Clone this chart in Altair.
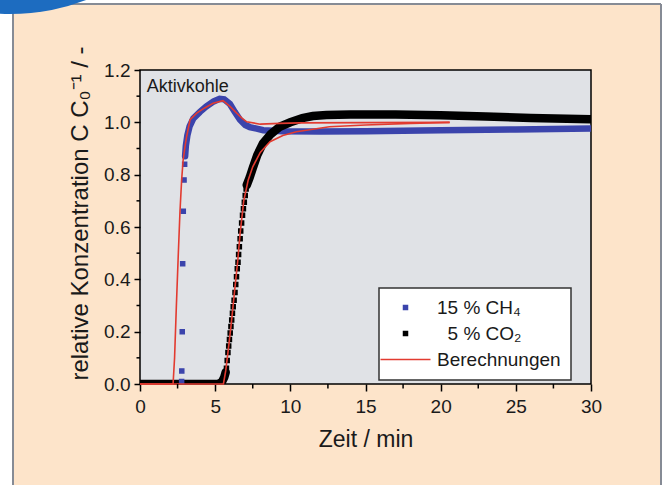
import altair as alt
import pandas as pd

FONT = "Liberation Sans"
# legend entries; the figure space lines the CO2 digit up under the CH4 one
SERIES = ["15 % CH₄", "\u200b\u20075 % CO₂", "Berechnungen"]
COLORS = ["#3b44ac", "#000000", "#e23b30"]

# axis ticks
x_major = [0, 5, 10, 15, 20, 25, 30]
x_minor = [2.5, 7.5, 12.5, 17.5, 22.5, 27.5]
y_major = [0.0, 0.2, 0.4, 0.6, 0.8, 1.0, 1.2]
y_minor = [0.1, 0.3, 0.5, 0.7, 0.9, 1.1]

# measured CH4: single squares on the steep front
ch4_front_t = [2.77, 2.78, 2.81, 2.84, 2.88, 2.93, 2.97]
ch4_front_c = [0.01, 0.05, 0.20, 0.46, 0.66, 0.78, 0.84]
# measured CH4: densely sampled part (overlapping squares)
ch4_band_t = [3.0, 3.05, 3.15, 3.3, 3.55, 3.99, 4.4, 4.9, 5.3, 5.6, 5.98, 6.3, 6.65,
              7.0, 7.3, 8.2, 9.5, 12, 15, 20, 25, 30]
ch4_band_c = [0.87, 0.91, 0.95, 0.985, 1.015, 1.04, 1.06, 1.08, 1.09, 1.088, 1.07, 1.04, 1.01,
              0.99, 0.982, 0.97, 0.966, 0.965, 0.966, 0.97, 0.973, 0.976]

# measured CO2: dense foot before breakthrough
co2_foot_t = [0, 5.2, 5.45, 5.6, 5.7]
co2_foot_c = [0.0, 0.0, 0.008, 0.025, 0.045]
# measured CO2: single squares on the front
co2_front_t = [5.75, 5.8, 5.85, 5.9, 5.95, 6.0, 6.05, 6.1, 6.15, 6.2, 6.26, 6.32, 6.37,
               6.42, 6.47, 6.52, 6.56, 6.61, 6.66, 6.7, 6.76, 6.82, 6.88, 6.94, 7.0, 7.06]
co2_front_c = [0.06, 0.09, 0.12, 0.145, 0.17, 0.195, 0.22, 0.245, 0.27, 0.295, 0.32, 0.35, 0.38,
               0.41, 0.44, 0.465, 0.495, 0.525, 0.555, 0.585, 0.615, 0.645, 0.67, 0.695, 0.72, 0.745]
# measured CO2: dense plateau
co2_band_t = [7.1, 7.3, 7.5, 7.8, 8.18, 8.7, 9.3, 10, 10.8, 11.5, 12.4, 14, 17, 20, 23, 26, 30]
co2_band_c = [0.76, 0.79, 0.825, 0.875, 0.92, 0.955, 0.983, 1.0, 1.016, 1.024, 1.028, 1.03,
              1.03, 1.027, 1.022, 1.017, 1.012]

# model calculations
calc_ch4_t = [0, 2.2, 2.3, 2.42, 2.55, 2.66, 2.77, 2.87, 3.0, 3.1, 3.33, 3.77, 4.3, 4.86,
              5.52, 6.0, 6.43, 6.8, 7.1, 8.0, 9.3, 10.6, 15, 20.6]
calc_ch4_c = [0.0, 0.0, 0.1, 0.3, 0.5, 0.66, 0.78, 0.856, 0.91, 0.945, 1.01, 1.035, 1.055, 1.073,
              1.083, 1.06, 1.035, 1.015, 1.002, 0.993, 0.996, 0.998, 0.999, 1.0]
calc_co2_t = [0, 5.55, 5.7, 5.85, 6.05, 6.3, 6.5, 6.65, 6.9, 7.2, 7.5, 8.0, 8.65, 9.5,
              10.4, 12.6, 15, 18, 20.6]
calc_co2_c = [0.0, 0.0, 0.05, 0.12, 0.22, 0.36, 0.47, 0.57, 0.7, 0.78, 0.83, 0.885, 0.926, 0.95,
              0.964, 0.983, 0.99, 0.996, 1.0]


def frame(t, c, series, seg):
    return pd.DataFrame({"t": t, "c": c, "series": series, "seg": seg})


points = pd.concat([frame(ch4_front_t, ch4_front_c, SERIES[0], "a"),
                    frame(co2_front_t, co2_front_c, SERIES[1], "b")])
band_ch4 = frame(ch4_band_t, ch4_band_c, SERIES[0], "a")
band_co2 = pd.concat([frame(co2_foot_t, co2_foot_c, SERIES[1], "foot"),
                      frame(co2_band_t, co2_band_c, SERIES[1], "plateau")])
calc = pd.concat([frame(calc_ch4_t, calc_ch4_c, SERIES[2], "ch4"),
                  frame(calc_co2_t, calc_co2_c, SERIES[2], "co2")])

x_scale = alt.Scale(domain=[0, 30], nice=False, zero=False)
y_scale = alt.Scale(domain=[0, 1.2], nice=False)

x_axis = alt.Axis(values=x_major, format="d", title="Zeit / min", domain=False, grid=False,
                  labelFlush=False, tickSize=7, tickWidth=1.5, tickColor="black", labelPadding=6,
                  labelFontSize=19, labelFont=FONT, labelColor="#1a1a1a",
                  titleFontSize=23, titleFont=FONT, titleFontWeight="normal", titleColor="#1a1a1a",
                  titleY=62, titleBaseline="alphabetic")
y_axis = alt.Axis(values=y_major, format=".1f", title="relative Konzentration  C C₀⁻¹ / -",
                  domain=False, grid=False, labelFlush=False, tickSize=6, tickWidth=1.5,
                  tickColor="black", labelPadding=4, labelFontSize=19, labelFont=FONT,
                  labelColor="#1a1a1a",
                  titleFontSize=24, titleFont=FONT, titleFontWeight="normal", titleColor="#1a1a1a",
                  titleAngle=270, titleAlign="center", titleBaseline="alphabetic",
                  titleX=-53, titleY=143)

X = alt.X("t:Q", scale=x_scale, axis=x_axis)
Y = alt.Y("c:Q", scale=y_scale, axis=y_axis)

color_scale = alt.Scale(domain=SERIES, range=COLORS)
shape_scale = alt.Scale(domain=SERIES, range=["square", "square", "M-12.5,0H12.5"])
legend = alt.Legend(title=None, orient="none", legendX=239, legendY=218,
                    fillColor="white", strokeColor="#333333", padding=10,
                    symbolOffset=7, labelOffset=22, rowPadding=6, symbolSize=16,
                    symbolStrokeWidth=1.5, labelFontSize=19, labelFont=FONT,
                    labelColor="#1a1a1a")

one = pd.DataFrame({"k": [0]})

# page decoration: white margins, grey frame and the blue corner tab
white_strips = alt.Chart(one).mark_rect(color="white").encode(
    x=alt.value(-140), x2=alt.value(-127), y=alt.value(-70), y2=alt.value(415))
white_right = alt.Chart(one).mark_rect(color="white").encode(
    x=alt.value(521), x2=alt.value(530), y=alt.value(-70), y2=alt.value(415))
white_top = alt.Chart(one).mark_rect(color="white").encode(
    x=alt.value(-140), x2=alt.value(530), y=alt.value(-70), y2=alt.value(-66))
frame_left = alt.Chart(one).mark_rule(color="#868b95", strokeWidth=2).encode(
    x=alt.value(-127), y=alt.value(-66), y2=alt.value(415))
frame_right = alt.Chart(one).mark_rule(color="#868b95", strokeWidth=2).encode(
    x=alt.value(521), y=alt.value(-66), y2=alt.value(415))
frame_top = alt.Chart(one).mark_rule(color="#868b95", strokeWidth=2).encode(
    x=alt.value(-127), x2=alt.value(521), y=alt.value(-66))
corner = alt.Chart(one).mark_point(filled=True, shape="circle", size=183200, opacity=1,
                                   color="#1d6cc0", strokeWidth=0).encode(
    x=alt.value(-130), y=alt.value(-270))

# measured squares (also carries the legend)
squares = alt.Chart(points).mark_point(filled=True, size=16, strokeWidth=1.5, opacity=1).encode(
    x=X, y=Y,
    color=alt.Color("series:N", scale=color_scale, legend=legend),
    stroke=alt.Stroke("series:N", scale=color_scale, legend=legend),
    shape=alt.Shape("series:N", scale=shape_scale, legend=legend))
blue_band = alt.Chart(band_ch4).mark_line(strokeWidth=6.5, clip=True, strokeCap="round",
                                          color=COLORS[0]).encode(x=X, y=Y, detail="seg:N")
black_band = alt.Chart(band_co2).mark_line(strokeWidth=8.5, clip=True, strokeCap="round",
                                           color=COLORS[1]).encode(x=X, y=Y, detail="seg:N")
calc_lines = alt.Chart(calc).mark_line(strokeWidth=1.6, color=COLORS[2]).encode(
    x=X, y=Y, detail="seg:N")

x_minor_ticks = alt.Chart(pd.DataFrame({"t": x_minor})).mark_rule(
    color="black", strokeWidth=1.5).encode(x=X, y=alt.value(314), y2=alt.value(318.5))
y_minor_ticks = alt.Chart(pd.DataFrame({"c": y_minor})).mark_rule(
    color="black", strokeWidth=1.5).encode(y=Y, x=alt.value(0), x2=alt.value(-3.5))

label = alt.Chart(pd.DataFrame({"t": [0.45], "c": [1.117], "txt": ["Aktivkohle"]})).mark_text(
    align="left", baseline="alphabetic", font=FONT, fontSize=18, color="#1a1a1a").encode(
    x=X, y=Y, text="txt:N")

chart = alt.layer(
    white_strips, white_right, white_top, frame_left, frame_right, frame_top, corner,
    blue_band, black_band, squares, calc_lines, x_minor_ticks, y_minor_ticks, label
).properties(
    width=451, height=314,
    autosize=alt.AutoSizeParams(type="none"),
    padding={"left": 140, "top": 70, "right": 79, "bottom": 101},
    background="#fde4ca",
).configure_view(
    fill="#e0e2e6", stroke="black", strokeWidth=1.5
).configure_legend(strokeWidth=1.5)

chart.save("out.html", embed_options={"renderer": "svg", "actions": False})
